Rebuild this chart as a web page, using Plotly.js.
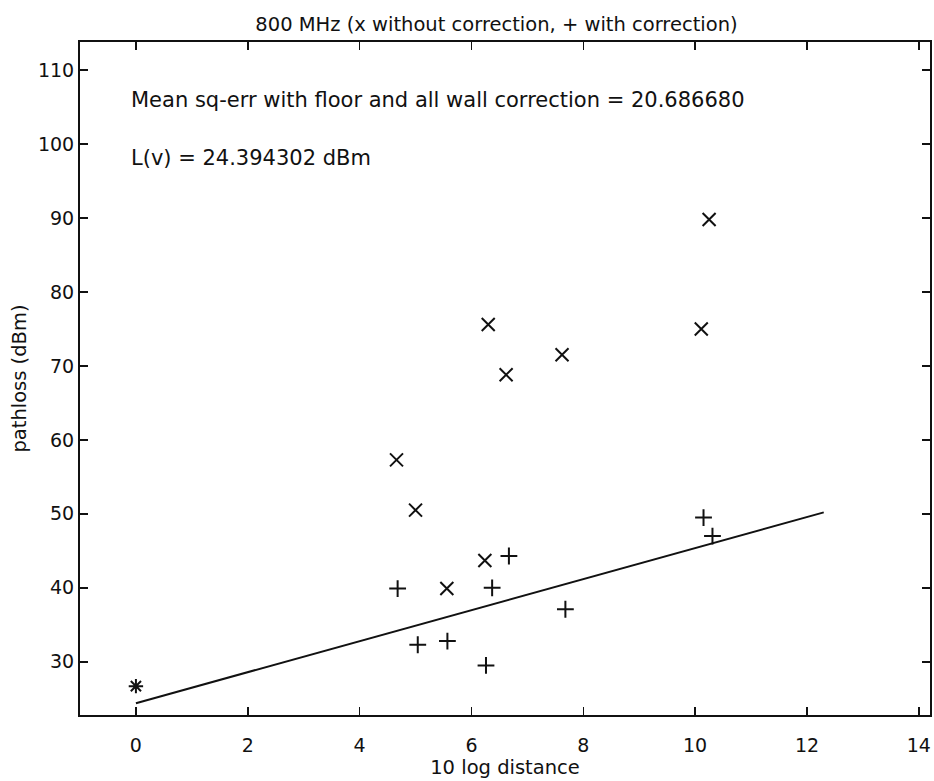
<!DOCTYPE html>
<html>
<head>
<meta charset="utf-8">
<script src="https://cdn.plot.ly/plotly-3.0.1.min.js"></script>
<style>html,body{margin:0;padding:0;background:#fff;}#chart{width:934px;height:781px;}</style>
</head>
<body>
<div id="chart"></div>
<script>
// without correction (x markers)
var rawX = [4.66, 5.00, 5.56, 6.24, 6.30, 6.62, 7.62, 10.11, 10.25];
var rawY = [57.3, 50.5, 39.9, 43.7, 75.6, 68.8, 71.5, 75.0, 89.8];
// with correction (+ markers)
var corrX = [4.68, 5.04, 5.57, 6.26, 6.37, 6.67, 7.68, 10.15, 10.31];
var corrY = [39.9, 32.3, 32.8, 29.5, 40.0, 44.3, 37.1, 49.5, 47.0];
// reference point (*)
var refX = [0];
var refY = [26.7];
// fitted line
var fitX = [0, 12.3];
var fitY = [24.394302, 50.2];
var xTicks = [0, 2, 4, 6, 8, 10, 12, 14];
var yTicks = [30, 40, 50, 60, 70, 80, 90, 100, 110];

var font = "'DejaVu Sans', 'Liberation Sans', Arial, sans-serif";
var traces = [
  {x: rawX, y: rawY, mode: 'markers', type: 'scatter',
   marker: {symbol: 'x-thin-open', size: 13, color: '#111', line: {width: 2, color: '#111'}}},
  {x: corrX, y: corrY, mode: 'markers', type: 'scatter',
   marker: {symbol: 'cross-thin-open', size: 12, color: '#111', line: {width: 2, color: '#111'}}},
  {x: refX, y: refY, mode: 'markers', type: 'scatter',
   marker: {symbol: 'asterisk-open', size: 12, color: '#111', line: {width: 2, color: '#111'}}},
  {x: fitX, y: fitY, mode: 'lines', type: 'scatter', line: {color: '#111', width: 2}}
];
var layout = {
  width: 934, height: 781,
  margin: {l: 80, r: 4, t: 42, b: 66},
  paper_bgcolor: '#ffffff', plot_bgcolor: '#ffffff',
  showlegend: false,
  font: {family: font, size: 19, color: '#111'},
  title: {text: '800 MHz (x without correction, + with correction)', font: {family: font, size: 19.5, color: '#111'},
          xref: 'paper', x: 0.49, xanchor: 'center', yref: 'container', y: 0.969, yanchor: 'middle'},
  xaxis: {range: [-1, 14.2], tickvals: xTicks, ticktext: xTicks.map(String), ticks: 'inside', ticklen: 8,
          tickwidth: 1.5, tickcolor: '#111', showline: true, linecolor: '#111', linewidth: 2, mirror: 'ticks',
          showgrid: false, zeroline: false, tickfont: {size: 19}, ticklabelstandoff: 12,
          title: {text: '10 log distance', font: {size: 19.5}, standoff: 0}},
  yaxis: {range: [22.8, 113.8], tickvals: yTicks, ticktext: yTicks.map(String), ticks: 'inside', ticklen: 8,
          tickwidth: 1.5, tickcolor: '#111', showline: true, linecolor: '#111', linewidth: 2, mirror: 'ticks',
          showgrid: false, zeroline: false, tickfont: {size: 19},
          title: {text: 'pathloss (dBm)', font: {size: 19.5}, standoff: 6}},
  annotations: [
    {x: -0.13, y: 105.9, xref: 'x', yref: 'y', xanchor: 'left', yanchor: 'middle', showarrow: false,
     text: 'Mean sq-err with floor and all wall correction = 20.686680', font: {size: 21}},
    {x: -0.13, y: 98.1, xref: 'x', yref: 'y', xanchor: 'left', yanchor: 'middle', showarrow: false,
     text: 'L(v) = 24.394302 dBm', font: {size: 21}}
  ]
};
Plotly.newPlot('chart', traces, layout, {displayModeBar: false, staticPlot: true});
</script>
</body>
</html>
